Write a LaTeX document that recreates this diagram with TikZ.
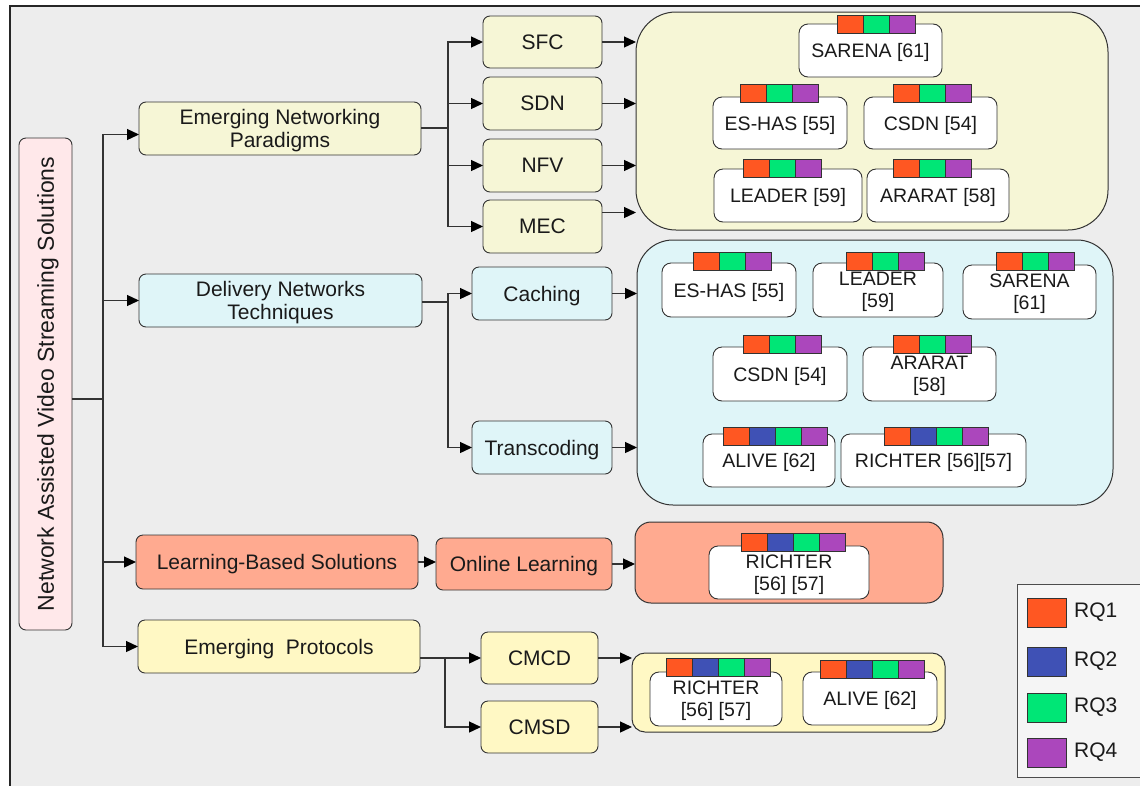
\documentclass[tikz,border=0pt]{standalone}
\usepackage{fontspec}
\setmainfont{Liberation Sans}
\usetikzlibrary{arrows.meta}
\definecolor{bgc}{HTML}{EDEDED}
\definecolor{lnc}{HTML}{333333}
\definecolor{txc}{HTML}{1A1A1A}
\definecolor{ylw}{HTML}{F6F6D6}
\definecolor{cyn}{HTML}{DFF5F8}
\definecolor{sal}{HTML}{FFAA90}
\definecolor{pyl}{HTML}{FFF8C4}
\definecolor{pnk}{HTML}{FFE8EA}
\definecolor{rqa}{HTML}{FF5722}
\definecolor{rqb}{HTML}{3F51B5}
\definecolor{rqc}{HTML}{00E676}
\definecolor{rqd}{HTML}{AB47BC}
\definecolor{lgd}{HTML}{F5F5F5}
\newcommand\mkbox[7]{\node[#2, minimum width={(#5-#3)*1pt}, minimum height={(#6-#4)*1pt}] (#1) at ({(#3+#5)/2},{(#4+#6)/2}) {#7};}
\newcommand\tagbar[4]{\foreach \c [count=\i from 0] in {#4} {\node[cell, fill=\c] (#1-\i) at ({#2+13+26*\i},{#3+9}) {};}}
\begin{document}
\begin{tikzpicture}[x=1pt,y=-1pt,
  box/.style={draw=lnc, line width=0.9pt, rounded corners=7pt, inner sep=0pt, outer sep=0pt, align=center, text=txc, text depth=0pt, font=\fontsize{21}{23}\selectfont},
  grp/.style={draw=lnc, line width=1pt, inner sep=0pt, outer sep=0pt},
  leaf/.style={draw=lnc, line width=0.9pt, fill=white, rounded corners=9pt, inner sep=0pt, outer sep=0pt, align=center, text=txc, text depth=0pt, font=\fontsize{19.5}{22}\selectfont},
  cell/.style={draw=lnc, line width=0.8pt, minimum width=26pt, minimum height=18pt, inner sep=0pt, outer sep=0pt},
  conn/.style={draw=lnc, line width=1.3pt},
  arr/.style={conn, -{Triangle[length=12pt,width=11pt,color=black]}},
  lgtxt/.style={anchor=west, text=txc, font=\fontsize{21}{23}\selectfont, inner sep=0pt}
]
\useasboundingbox (0,0) rectangle (1140,785);
\clip (0,0) rectangle (1140,785);
\fill[white] (0,0) rectangle (1140,785);
\fill[bgc] (10,6) rectangle (1150,795);
\draw[line width=2pt, draw=black!85] (10,795) -- (10,6) -- (1150,6);

% root
\node[box, fill=pnk, rotate=90, minimum width=492pt, minimum height=53pt, font=\fontsize{23}{25}\selectfont] (root) at (45.5,384) {Network Assisted Video Streaming Solutions};
\coordinate (trunk) at (103,399);

% level 1
\mkbox{enp}{box, fill=ylw}{139}{102}{421}{155}{Emerging Networking\\Paradigms}
\mkbox{dnt}{box, fill=cyn}{139}{274}{422}{327}{Delivery Networks\\Techniques}
\mkbox{lbs}{box, fill=sal}{136}{535}{418}{589}{Learning-Based Solutions}
\mkbox{ep}{box, fill=pyl}{138}{620}{420}{673}{Emerging\ \ Protocols}

% level 2
\mkbox{sfc}{box, fill=ylw}{483}{16}{602}{68}{SFC}
\mkbox{sdn}{box, fill=ylw}{483}{77}{602}{130}{SDN}
\mkbox{nfv}{box, fill=ylw}{483}{139}{602}{192}{NFV}
\mkbox{mec}{box, fill=ylw}{483}{200}{602}{253}{MEC}
\mkbox{cach}{box, fill=cyn}{472}{267}{612}{320}{Caching}
\mkbox{trans}{box, fill=cyn}{472}{421}{612}{474}{Transcoding}
\mkbox{ol}{box, fill=sal}{436}{538}{612}{590}{Online Learning}
\mkbox{cmcd}{box, fill=pyl}{481}{632}{598}{684}{CMCD}
\mkbox{cmsd}{box, fill=pyl}{481}{701}{598}{753}{CMSD}

% groups
\mkbox{g1}{grp, fill=ylw, rounded corners=40pt}{636}{12}{1108}{230}{}
\mkbox{g2}{grp, fill=cyn, rounded corners=36pt}{637}{240}{1113}{505}{}
\mkbox{g3}{grp, fill=sal, rounded corners=16pt}{635}{522}{943}{603}{}
\mkbox{g4}{grp, fill=pyl, rounded corners=13pt}{632}{653}{945}{732}{}

% group 1 leaves
\mkbox{la1}{leaf}{799}{24}{942}{77}{SARENA [61]}
\tagbar{ta1}{837}{15}{rqa,rqc,rqd}
\mkbox{la2}{leaf}{713}{97}{847}{149}{ES-HAS [55]}
\tagbar{ta2}{740}{84}{rqa,rqc,rqd}
\mkbox{la3}{leaf}{864}{97}{997}{149}{CSDN [54]}
\tagbar{ta3}{893}{84}{rqa,rqc,rqd}
\mkbox{la4}{leaf}{714}{169}{862}{222}{LEADER [59]}
\tagbar{ta4}{743}{159}{rqa,rqc,rqd}
\mkbox{la5}{leaf}{867}{169}{1009}{222}{ARARAT [58]}
\tagbar{ta5}{893}{159}{rqa,rqc,rqd}

% group 2 leaves
\mkbox{lb1}{leaf}{662}{263}{796}{317}{ES-HAS [55]}
\tagbar{tb1}{693}{252}{rqa,rqc,rqd}
\mkbox{lb2}{leaf}{813}{263}{943}{317}{LEADER\\{}[59]}
\tagbar{tb2}{846}{252}{rqa,rqc,rqd}
\mkbox{lb3}{leaf}{963}{265}{1096}{319}{SARENA\\{}[61]}
\tagbar{tb3}{996}{252}{rqa,rqc,rqd}
\mkbox{lb4}{leaf}{713}{347}{847}{401}{CSDN [54]}
\tagbar{tb4}{743}{335}{rqa,rqc,rqd}
\mkbox{lb5}{leaf}{863}{347}{996}{401}{ARARAT\\{}[58]}
\tagbar{tb5}{893}{335}{rqa,rqc,rqd}
\mkbox{lb6}{leaf}{703}{434}{835}{487}{ALIVE [62]}
\tagbar{tb6}{723}{427}{rqa,rqb,rqc,rqd}
\mkbox{lb7}{leaf}{841}{434}{1026}{487}{RICHTER [56][57]}
\tagbar{tb7}{884}{427}{rqa,rqb,rqc,rqd}

% group 3 leaf
\mkbox{lc1}{leaf}{709}{546}{869}{599}{RICHTER\\{}[56] [57]}
\tagbar{tc1}{741}{533}{rqa,rqb,rqc,rqd}

% group 4 leaves
\mkbox{ld1}{leaf}{650}{672}{782}{726}{RICHTER\\{}[56] [57]}
\tagbar{td1}{666}{658}{rqa,rqb,rqc,rqd}
\mkbox{ld2}{leaf}{803}{672}{937}{725}{ALIVE [62]}
\tagbar{td2}{820}{660}{rqa,rqb,rqc,rqd}

% connectors from root
\draw[conn] (root.south |- trunk) -- (trunk);
\draw[arr] (trunk) |- ([yshift=-6pt]enp.west);
\draw[arr] (trunk) |- (dnt.west);
\draw[arr] (trunk) |- (lbs.west);
\draw[arr] (trunk) |- (ep.west);

% emerging networking paradigms
\coordinate (j1) at (448,128);
\draw[conn] (enp.east |- j1) -- (j1);
\draw[arr] (j1) |- (sfc.west);
\draw[arr] (j1) |- (sdn.west);
\draw[arr] (j1) |- (nfv.west);
\draw[arr] (j1) |- (mec.west);
\draw[arr] (sfc.east) -- (sfc.east -| g1.west);
\draw[arr] (sdn.east) -- (sdn.east -| g1.west);
\draw[arr] (nfv.east) -- (nfv.east -| g1.west);
\draw[arr] ([yshift=14pt]mec.east) -- ([yshift=14pt]mec.east -| g1.west);

% delivery networks
\coordinate (j2) at (448,302);
\draw[conn] (dnt.east |- j2) -- (j2);
\draw[arr] (j2) |- (cach.west);
\draw[arr] (j2) |- (trans.west);
\draw[arr] (cach.east) -- (cach.east -| g2.west);
\draw[arr] (trans.east) -- (trans.east -| g2.west);

% learning based
\draw[arr] (lbs.east) -- (ol.west |- lbs.east);
\draw[arr] (ol.east) -- (ol.east -| g3.west);

% emerging protocols
\coordinate (j4) at (445,658);
\draw[arr] (ep.east |- cmcd.west) -- (cmcd.west);
\draw[arr] (j4) |- (cmsd.west);
\draw[arr] (cmcd.east) -- (cmcd.east -| g4.west);
\draw[arr] (cmsd.east) -- (cmsd.east -| g4.west);

% legend
\mkbox{lg}{draw=black!70, line width=1pt, fill=lgd, inner sep=0pt}{1017}{584}{1160}{777}{}
\mkbox{s1}{draw=lnc, line width=0.9pt, fill=rqa, inner sep=0pt}{1027}{598}{1066}{627}{}
\mkbox{s2}{draw=lnc, line width=0.9pt, fill=rqb, inner sep=0pt}{1027}{647}{1066}{676}{}
\mkbox{s3}{draw=lnc, line width=0.9pt, fill=rqc, inner sep=0pt}{1027}{693}{1066}{722}{}
\mkbox{s4}{draw=lnc, line width=0.9pt, fill=rqd, inner sep=0pt}{1027}{738}{1066}{767}{}
\node[lgtxt] (t1) at (1074,612.5) {RQ1};
\node[lgtxt] (t2) at (1074,661.5) {RQ2};
\node[lgtxt] (t3) at (1074,707.5) {RQ3};
\node[lgtxt] (t4) at (1074,752.5) {RQ4};
\end{tikzpicture}
\end{document}
